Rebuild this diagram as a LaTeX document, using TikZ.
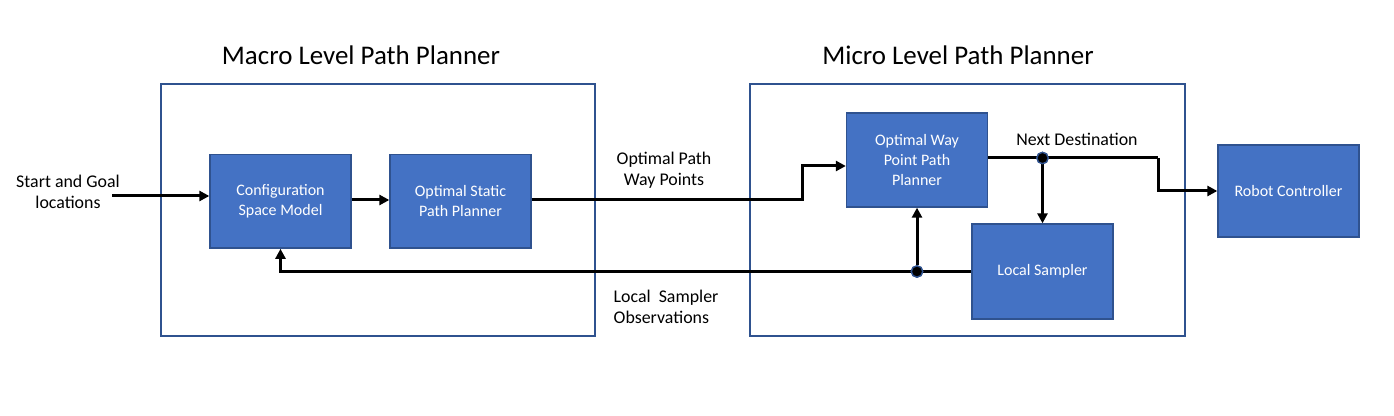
\documentclass[tikz,border=0pt]{standalone}
\usepackage{fontspec}
\setmainfont{Carlito}
\usetikzlibrary{arrows.meta}
\definecolor{boxblue}{RGB}{68,114,196}
\definecolor{edgeblue}{RGB}{47,82,143}

\begin{document}
\begin{tikzpicture}[x=0.75pt,y=0.75pt,yscale=-1,
  block/.style={draw=edgeblue,line width=1pt,fill=boxblue,text=white,align=center,
    font=\fontsize{12}{15}\selectfont,inner sep=0pt,minimum width=105.75pt,minimum height=70pt},
  frame/.style={draw=edgeblue,line width=0.9pt,inner sep=0pt,minimum height=189pt},
  flow/.style={line width=2.25pt,-{Triangle[length=7.5pt,width=7.5pt]}},
  wire/.style={line width=2.25pt},
  junction/.style={circle,fill=black,draw=edgeblue,line width=1pt,inner sep=0pt,minimum size=8.5pt},
  title/.style={font=\fontsize{20.2}{24}\selectfont},
  lbl/.style={font=\fontsize{13.4}{15.75}\selectfont,align=center}]
\useasboundingbox (0,0) rectangle (1394,416);

%Shape: Frames
\node[frame,minimum width=325.5pt] (macro) at (378,210) {};
\node[frame,minimum width=326.25pt] (micro) at (967.5,210) {};

% Text Node
\node[title] (macrot) at (361,55) {Macro Level Path Planner};
% Text Node
\node[title] (microt) at (958,55) {Micro Level Path Planner};

%Shape: Blocks
\node[block] (cfg) at (280.5,201.5) {Configuration\\Space Model};
\node[block] (static) at (460.5,201.5) {Optimal Static\\Path Planner};
\node[block,minimum height=70.5pt] (wp) at (917,160) {Optimal Way\\Point Path\\Planner};
\node[block,minimum height=71.25pt] (ls) at (1042.5,271.5) {Local Sampler};
\node[block,minimum height=69pt] (robot) at (1288.5,191) {Robot Controller};

% Text Node
\node[lbl] (start) at (68,192) {Start and Goal\\locations};
% Text Node
\node[lbl] (optwp) at (664,170) {Optimal Path\\Way Points};
% Text Node
\node[lbl,align=left,anchor=west] (lsobs) at (609,307) {Local\ \ Sampler\\Observations};
% Text Node
\node[lbl] (nextd) at (1077,139) {Next Destination};

%Connectors
\coordinate (src) at (112,196);
\coordinate (bendA) at (802,200);
\coordinate (bendB) at (1158,158);
\draw[flow] (src) -- (cfg.west |- src);
\draw[flow] (cfg.east |- 0,200) -- (static.west |- 0,200);
\draw[flow] (static.east |- bendA) -- (bendA) |- ([yshift=4.5pt]wp.west);
\draw[wire] (wp.east |- bendB) -- (bendB);
\draw[flow] (bendB) |- (robot.west);
\draw[flow] (ls.west) -| (cfg.south);

%Junctions
\node[junction] (nd) at (ls.north |- bendB) {};
\node[junction] (od) at (wp.south |- ls.west) {};
\draw[flow] (nd) -- (ls.north);
\draw[flow] (od) -- (wp.south);
\node[junction] at (nd) {};
\node[junction] at (od) {};

\end{tikzpicture}
\end{document}
